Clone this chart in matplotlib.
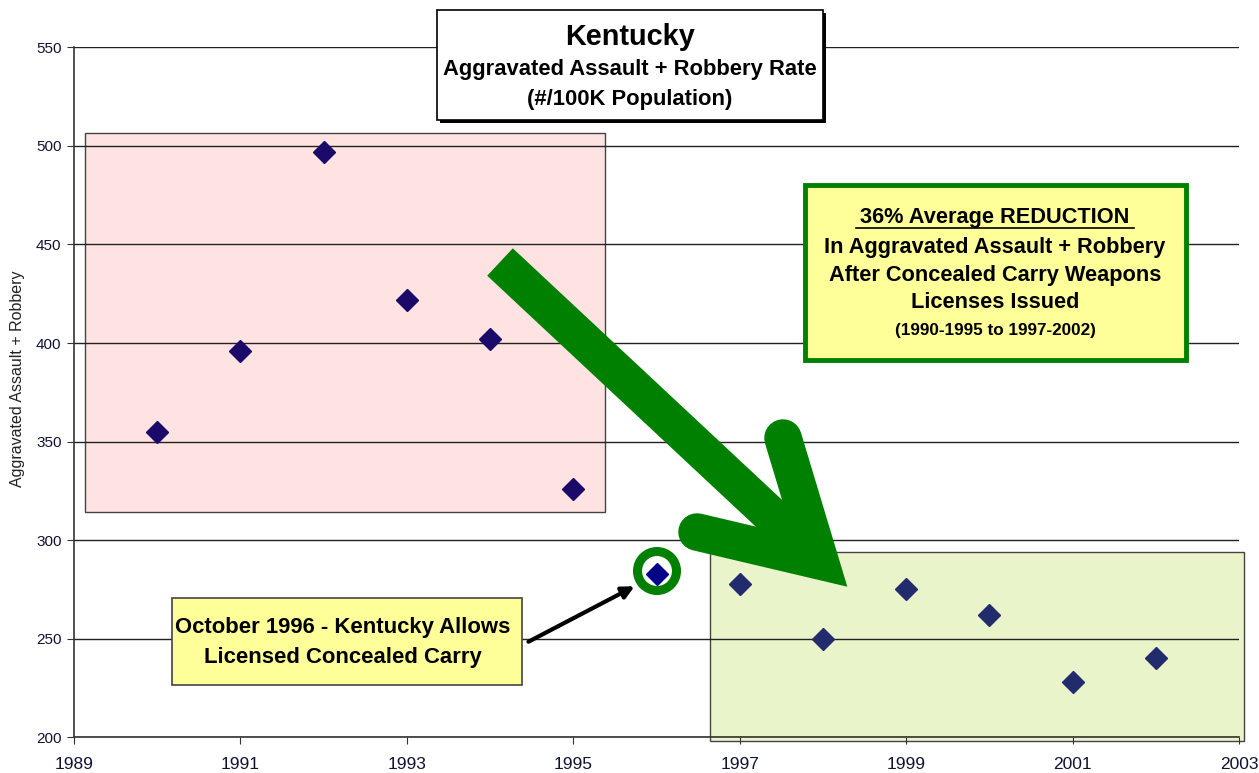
import numpy as np
import matplotlib.pyplot as plt
from matplotlib.patches import Rectangle, Circle

plt.rcParams['font.family'] = ['Liberation Sans', 'DejaVu Sans']

# data
years_before = [1990, 1991, 1992, 1993, 1994, 1995]
rates_before = [355, 396, 497, 422, 402, 326]
years_law = [1996]
rates_law = [283]
years_after = [1997, 1998, 1999, 2000, 2001, 2002]
rates_after = [278, 250, 275, 262, 228, 240]

xticks = list(range(1989, 2004, 2))
yticks = list(range(200, 551, 50))

W, H = 1259, 773
fig = plt.figure(figsize=(W / 100, H / 100), dpi=100)

# pixel coordinate layers below and above the chart
def pixel_axes(z):
    a = fig.add_axes([0, 0, 1, 1], zorder=z)
    a.set_xlim(0, W)
    a.set_ylim(H, 0)
    a.axis('off')
    return a

under = pixel_axes(0)
ax = fig.add_axes([74 / W, 1 - 737.3 / H, (1239 - 74) / W, (737.3 - 47.3) / H], zorder=1)
ax.patch.set_alpha(0)
over = pixel_axes(2)

# shaded periods
under.add_patch(Rectangle((85, 133), 520, 379, facecolor='#FFE2E2', edgecolor='#444444', lw=1))
under.add_patch(Rectangle((710, 552), 534, 189, facecolor='#E9F4CB', edgecolor='#444444', lw=1))

# main scatter
ax.plot(years_before, rates_before, 'D', color='#1C0A6B', ms=11, zorder=3)
ax.plot(years_law, rates_law, 'D', color='#000088', ms=11, zorder=3)
ax.plot(years_after, rates_after, 'D', color='#222C6C', ms=11, zorder=3)

ax.set_xlim(1989, 2003)
ax.set_ylim(200, 550)
ax.set_xticks(xticks)
ax.set_yticks(yticks)
ax.grid(axis='y', color='#222222', lw=1)
ax.set_axisbelow(True)
for s in ['top', 'right']:
    ax.spines[s].set_visible(False)
for s in ['left', 'bottom']:
    ax.spines[s].set_color('#333333')
    ax.spines[s].set_linewidth(1.2)
ax.tick_params(axis='x', labelsize=12.5, length=5, pad=9, direction='out', colors='#333333', labelcolor='#111133')
ax.tick_params(axis='y', labelsize=11, length=5, pad=4, direction='out', colors='#333333', labelcolor='#111133')
ax.set_ylabel('Aggravated Assault + Robbery', fontsize=11.5, color='#222222')
ax.yaxis.set_label_coords(-0.042, 0.519)

# title box with shadow
over.add_patch(Rectangle((440, 13), 386, 110, facecolor='black', edgecolor='none'))
over.add_patch(Rectangle((437, 10), 386, 110, facecolor='white', edgecolor='black', lw=1.2))
over.text(630, 37, 'Kentucky', ha='center', va='center', fontsize=20.8, fontweight='bold')
over.text(630, 70, 'Aggravated Assault + Robbery Rate', ha='center', va='center', fontsize=15.8, fontweight='bold')
over.text(630, 99, '(#/100K Population)', ha='center', va='center', fontsize=15.8, fontweight='bold')

# reduction box
over.add_patch(Rectangle((805, 185), 381, 175, facecolor='#FFFF99', edgecolor='#008000', lw=3.5))
over.text(995, 217, '36% Average REDUCTION', ha='center', va='center', fontsize=15.7, fontweight='bold')
over.plot([856, 1134], [228, 228], color='black', lw=1.2)
over.text(995, 247, 'In Aggravated Assault + Robbery', ha='center', va='center', fontsize=15.7, fontweight='bold')
over.text(995, 276, 'After Concealed Carry Weapons', ha='center', va='center', fontsize=15.7, fontweight='bold')
over.text(995, 303, 'Licenses Issued', ha='center', va='center', fontsize=15.7, fontweight='bold')
over.text(995, 330, '(1990-1995 to 1997-2002)', ha='center', va='center', fontsize=12.3, fontweight='bold')

# big green arrow
over.plot([500, 820], [262, 561], color='#008000', lw=27, solid_capstyle='butt')
over.plot([783, 820, 697], [438, 561, 532], color='#008000', lw=27,
          solid_capstyle='round', solid_joinstyle='miter')

# law change callout
over.add_patch(Rectangle((172, 598), 350, 87, facecolor='#FFFF99', edgecolor='#444444', lw=1.2))
over.text(343, 627, 'October 1996 - Kentucky Allows', ha='center', va='center', fontsize=15.9, fontweight='bold')
over.text(343, 657, 'Licensed Concealed Carry', ha='center', va='center', fontsize=15.9, fontweight='bold')
over.annotate('', xy=(637, 585), xytext=(526, 643),
              arrowprops=dict(arrowstyle='-|>', color='black', lw=3, mutation_scale=18))
over.add_patch(Circle((657, 571), 19.5, facecolor='none', edgecolor='#008000', lw=6.5))

fig.savefig('out.png', dpi=100)
